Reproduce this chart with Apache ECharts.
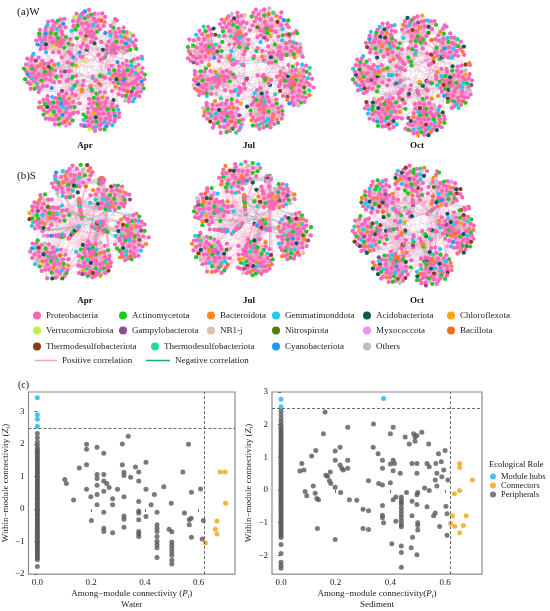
<!DOCTYPE html>
<html>
<head>
<meta charset="utf-8">
<script src="https://cdn.jsdelivr.net/npm/echarts@6/dist/echarts.min.js"></script>
<style>html,body{margin:0;padding:0;background:#fff}#main{width:550px;height:611px}</style>
</head>
<body>
<div id="main"></div>
<script>
var FONT = '"Liberation Serif","DejaVu Serif",serif';

// phyla and legend colours
var phyla = ['Proteobacteria','Actinomycetota','Bacteroidota','Gemmatimonddota','Acidobacteriota','Chloroflexota',
  'Verrucomicrobiota','Gampylobacterota','NB1-j','Nitrospirota','Myxococcota','Bacillota',
  'Thermodesulfobacteriota','Thermodesulfobacteriota ','Cyanobacteriota','Others'];
var phylaColors = ['#f766b9','#1fc71f','#f7891c','#1ec9f2','#0c5c55','#ffa516',
  '#bdf24a','#8f4b8f','#dcc1b0','#4d7d12','#f58ef2','#f56d1b',
  '#8c3b18','#22d8a2','#1f97f2','#bdbdbd'];

// networks: nodes per module (lobe), nodes in the mixed centre, phylum shares (%)
var wAprModules = [72, 68, 64, 60, 54, 50, 44];
var wJulModules = [66, 64, 60, 54, 52, 48, 44, 40];
var wOctModules = [74, 68, 62, 56, 52, 46, 42];
var sAprModules = [72, 68, 62, 56, 52, 46];
var sJulModules = [76, 70, 62, 56, 50, 46];
var sOctModules = [70, 66, 62, 56, 52, 46, 42];
var netCentre = [60, 44, 60, 70, 66, 80];
var wAprShares = [64, 14, 3, 7, 2, 1, 2, 1, 1, 0, 1, 1, 0, 0, 4, 1];
var wJulShares = [63, 12, 6, 4, 2, 1, 0, 1, 2, 1, 1, 1, 1, 4, 1, 5];
var wOctShares = [59, 13, 5, 8, 5, 1, 0, 1, 1, 1, 1, 1, 3, 1, 1, 4];
var sAprShares = [59, 13, 6, 7, 3, 1, 0, 1, 1, 1, 1, 1, 2, 3, 1, 5];
var sJulShares = [60, 13, 6, 5, 3, 1, 0, 1, 1, 1, 1, 1, 2, 3, 1, 5];
var sOctShares = [56, 13, 6, 8, 6, 1, 0, 2, 1, 1, 1, 1, 4, 2, 1, 4];
var months = ['Apr', 'Jul', 'Oct'];

// Zi-Pi plot, water
var waterHubs = [[0,3.42],[0,2.9],[0,2.76],[0,2.55]];
var waterConnectors = [[0.625,-1.04],[0.662,-0.62],[0.668,-0.37],[0.668,-0.77],[0.68,1.14],[0.698,1.14],[0.70,0.18]];
var waterZeroY = [2.32,2.19,2.06,1.96,1.87,1.81,1.75,1.7,1.64,1.58,1.53,1.47,1.42,1.36,1.31,1.24,1.19,1.13,1.08,1.02,0.96,0.91,0.85,0.8,0.74,0.69,0.63,0.57,0.52,0.46,0.41,0.35,0.3,0.24,0.18,0.13,0.07,0.02,-0.04,-0.09,-0.15,-0.2,-0.26,-0.32,-0.37,-0.43,-0.48,-0.54,-0.6,-0.65,-0.71,-0.76,-0.82,-0.87,-0.93,-0.99,-1.04,-1.1,-1.15,-1.21,-1.27,-1.32,-1.38,-1.44,-1.5,-1.56,-1.77];
var waterPeripherals = [[0.102,0.91],[0.108,0.79],[0.135,0.28],[0.156,1.26],[0.183,1.99],[0.183,1.84],[0.183,1.36],[0.183,0.61],
  [0.199,0.38],[0.201,-0.35],[0.222,1.9],[0.222,1.06],[0.222,0.94],[0.222,0.73],[0.222,0.45],[0.222,0.13],[0.247,1.72],[0.247,1.06],
  [0.247,0.86],[0.247,0.55],[0.247,-0.1],[0.247,-0.59],[0.247,-0.69],[0.258,0.79],[0.267,0.66],[0.28,0.32],[0.28,0.13],[0.28,-0.73],
  [0.298,0.61],[0.316,2.0],[0.316,1.36],[0.322,1.13],[0.322,1.03],[0.322,0.38],[0.322,-0.21],[0.322,-0.31],[0.322,-0.56],[0.338,2.24],
  [0.347,0.98],[0.365,1.29],[0.377,1.14],[0.377,0.86],[0.377,0.23],[0.377,-0.06],[0.377,-0.12],[0.377,-0.33],[0.377,-0.69],[0.377,-0.76],
  [0.377,-0.84],[0.404,1.44],[0.404,0.61],[0.404,-0.23],[0.423,0.13],[0.435,0.45],[0.445,-0.1],[0.445,-0.48],[0.445,-0.59],[0.445,-0.69],
  [0.445,-0.84],[0.445,-0.99],[0.445,-1.09],[0.445,-1.19],[0.445,-1.49],[0.47,0.69],[0.498,0.18],[0.49,-0.62],[0.5,-0.7],[0.5,-1.01],
  [0.5,-1.11],[0.5,-1.21],[0.5,-1.32],[0.5,-1.42],[0.5,-1.57],[0.5,-1.69],[0.541,1.14],[0.547,-0.12],[0.562,1.99],[0.565,-0.33],
  [0.565,-0.48],[0.572,-0.28],[0.573,0.52],[0.573,-0.87],[0.607,0.62],[0.613,-0.92],[0.617,-0.35]];

// Zi-Pi plot, sediment
var sedHubs = [[0,2.78],[0,2.55],[0.375,2.8]];
var sedConnectors = [[0.653,0.81],[0.653,0.69],[0.70,0.30],[0.634,-0.12],[0.653,-0.02],[0.627,-0.79],[0.677,-0.79],[0.62,-1.03],
  [0.635,-1.11],[0.667,-1.09],[0.653,-1.31]];
var sedZeroY = [2.42,2.3,2.18,2.08,1.98,1.91,1.85,1.79,1.73,1.66,1.6,1.54,1.48,1.42,1.36,1.3,1.24,1.18,1.12,1.06,1.0,0.94,0.88,0.82,
  0.76,0.7,0.64,0.58,0.52,0.46,0.4,0.34,0.28,0.22,0.16,0.1,0.04,-0.02,-0.08,-0.14,-0.2,-0.26,-0.32,-0.38,-0.44,-0.5,-0.56,-0.62,-0.68,
  -0.74,-0.8,-0.86,-0.92,-0.98,-1.04,-1.1,-1.16,-1.22,-1.28,-1.34,-1.4,-1.46,-1.67,-1.95,-2.22,-2.32,-2.4];
var sedPeripherals = [[0.076,0.81],[0.069,0.58],[0.084,0.61],[0.088,-0.05],[0.094,-0.18],[0.112,1.04],[0.118,0.12],[0.125,-0.1],
  [0.127,1.21],[0.131,-0.26],[0.137,-0.3],[0.133,-1.18],[0.155,1.72],[0.161,2.39],[0.164,0.45],[0.17,0.42],[0.18,0.55],[0.177,0.28],
  [0.182,0.2],[0.198,1.19],[0.198,0.91],[0.198,0.08],[0.198,-1.52],[0.216,1.31],[0.216,0.76],[0.222,0.66],[0.228,0.61],[0.218,-0.08],
  [0.244,1.92],[0.244,0.91],[0.244,0.66],[0.25,-0.3],[0.277,-0.32],[0.3,-0.59],[0.32,0.28],[0.32,-0.64],[0.3,-1.18],[0.32,-1.21],
  [0.337,1.31],[0.338,2.02],[0.355,1.11],[0.357,0.2],[0.371,0.91],[0.371,0.66],[0.371,0.15],[0.371,-0.48],[0.371,-0.78],[0.371,-0.85],
  [0.375,-1.01],[0.4,1.72],[0.41,1.92],[0.4,0.79],[0.41,0.91],[0.41,0.59],[0.4,0.22],[0.41,-0.3],[0.415,0.81],[0.42,-0.22],[0.42,-0.96],
  [0.405,-1.65],[0.436,0.51],[0.44,-0.22],[0.44,-0.3],[0.44,-0.38],[0.44,-0.45],[0.44,-0.56],[0.44,-0.66],[0.44,-0.76],[0.44,-0.86],
  [0.44,-0.96],[0.44,-1.06],[0.44,-1.13],[0.44,-1.72],[0.44,-1.92],[0.44,-2.37],[0.454,1.62],[0.459,-0.08],[0.469,1.41],[0.479,0.81],
  [0.479,-0.35],[0.479,-0.79],[0.481,-1.45],[0.476,-1.77],[0.485,1.72],[0.49,1.62],[0.497,1.67],[0.49,1.49],[0.497,0.81],[0.497,0.51],
  [0.497,-0.15],[0.5,-0.08],[0.497,-0.45],[0.5,-1.01],[0.5,-1.09],[0.5,-1.23],[0.497,-1.99],[0.515,1.77],[0.525,0.06],[0.534,0.81],
  [0.542,0.71],[0.534,-0.52],[0.54,1.41],[0.542,-0.02],[0.558,-0.79],[0.564,-0.71],[0.564,0.3],[0.566,0.81],[0.57,0.51],[0.57,0.12],
  [0.576,1.11],[0.58,-1.12],[0.586,0.86],[0.588,0.4],[0.595,0.61],[0.6,1.21],[0.603,-0.5],[0.607,-1.39],[0.61,0.3],[0.607,-0.73]];
var pTicks = [0, 0.2, 0.4, 0.6];
var waterZTicks = [-2, -1, 0, 1, 2, 3];
var sedZTicks = [-2, -1, 0, 1, 2, 3];
var pThreshold = 0.62, zThreshold = 2.5;

var POS = 'rgba(245,125,172,0.42)', NEG = 'rgba(40,170,140,0.32)';
// spring strengths of lobe members (larger = closer to the hub), spread so a lobe fills like a disc
var lobeDepth = [9, 8.38, 7.29, 6.3, 5.59, 5.03, 4.53, 4.1, 3.69, 3.32, 2.98, 2.64, 6.83, 4.78];

// build one co-occurrence network: each lobe hangs on its hub node, centre nodes bridge neighbouring lobes.
// links flagged ignoreForceLayout are only drawn, they do not move nodes.
function buildNet(tag, modules, centre, shares) {
  var nodes = [], links = [], used = shares.map(function () { return 0; });
  var sum = shares.reduce(function (a, b) { return a + b; }, 0);
  var k = 0, hubs = [];
  function pick() {
    var best = 0, bd = -1e9;
    for (var p = 0; p < shares.length; p++) {
      var d = shares[p] / sum * (k + 1) - used[p];
      if (d > bd) { bd = d; best = p; }
    }
    used[best]++;
    return best;
  }
  function extra(a, b, style) {
    if (a !== b) links.push({ source: a, target: b, value: 0, ignoreForceLayout: true, lineStyle: style });
  }
  modules.forEach(function (s) {
    var base = k;
    hubs.push(base);
    for (var j = 0; j < s; j++) {
      nodes.push({ name: tag + k, category: pick(), value: 1 });
      if (j > 0) {
        links.push({ source: base, target: k, value: lobeDepth[j % lobeDepth.length] });
        extra(base + (j * 7) % s, k);
        extra(base + (j * 13 + 5) % s, k);
        extra(base + (j * 5 + 3) % s, k);
      }
      k++;
    }
  });
  var M = modules.length;
  for (var m = 0; m < M; m++) {
    links.push({ source: hubs[m], target: hubs[(m + 1) % M], value: 0 });
    for (var e = 1; e < 10; e++) extra(hubs[m] + e * 4, hubs[(m + 1 + e % 3) % M] + e * 3);
  }
  for (var c = 0; c < centre; c++) {
    nodes.push({ name: tag + k, category: pick(), value: 1 });
    var st = { color: c % 4 === 0 ? NEG : POS };
    links.push({ source: hubs[c % M], target: k, value: 0.5 + c % 3, lineStyle: st });
    links.push({ source: hubs[(c + 1 + c % 2) % M], target: k, value: 0.5 + c % 3, lineStyle: st });
    extra(hubs[(c + 3) % M] + 2 + c % 9, k, { color: c % 3 === 0 ? NEG : POS });
    k++;
  }
  return { nodes: nodes, links: links };
}

var nets = [
  buildNet('wa', wAprModules, netCentre[0], wAprShares),
  buildNet('wj', wJulModules, netCentre[1], wJulShares),
  buildNet('wo', wOctModules, netCentre[2], wOctShares),
  buildNet('sa', sAprModules, netCentre[3], sAprShares),
  buildNet('sj', sJulModules, netCentre[4], sJulShares),
  buildNet('so', sOctModules, netCentre[5], sOctShares)
];
var netCentres = [[85, 72], [249, 72], [413, 77], [85, 227], [249, 224], [414, 228]];

var categories = phyla.map(function (n, i) { return { name: n, itemStyle: { color: phylaColors[i] } }; });

var series = nets.map(function (net, i) {
  return {
    type: 'graph', name: 'net' + i, layout: 'force',
    left: netCentres[i][0] - 62, top: netCentres[i][1] - 62, width: 124, height: 124,
    force: { initLayout: 'circular', repulsion: 0.36, gravity: 0.07, edgeLength: [1, 30], layoutAnimation: false },
    categories: categories, data: net.nodes, links: net.links,
    symbolSize: 4.2, silent: true, roam: false,
    label: { show: false }, emphasis: { disabled: true },
    lineStyle: { color: POS, width: 0.55, opacity: 1 },
    itemStyle: { borderWidth: 0 }
  };
});

function zeroCol(ys) { return ys.map(function (y) { return [0, y]; }); }
var dashLine = {
  silent: true, symbol: ['none', 'none'], label: { show: false },
  lineStyle: { type: [3, 2], color: '#444', width: 0.8 },
  data: [{ xAxis: pThreshold }, { yAxis: zThreshold }]
};
[[0, waterHubs, waterConnectors, zeroCol(waterZeroY).concat(waterPeripherals)],
 [1, sedHubs, sedConnectors, zeroCol(sedZeroY).concat(sedPeripherals)]].forEach(function (g) {
  series.push({ type: 'scatter', name: 'Peripherals', xAxisIndex: g[0], yAxisIndex: g[0], data: g[3], symbolSize: 5,
    itemStyle: { color: '#595959' }, markLine: dashLine });
  series.push({ type: 'scatter', name: 'Connectors', xAxisIndex: g[0], yAxisIndex: g[0], data: g[2], symbolSize: 5,
    itemStyle: { color: '#f5a117' } });
  series.push({ type: 'scatter', name: 'Module hubs', xAxisIndex: g[0], yAxisIndex: g[0], data: g[1], symbolSize: 5,
    itemStyle: { color: '#1cb5ec' } });
});
series.push({ type: 'line', name: 'Positive correlation', data: [], color: '#f7a2bf', xAxisIndex: 0, yAxisIndex: 0 });
series.push({ type: 'line', name: 'Negative correlation', data: [], color: '#1aa97a', xAxisIndex: 0, yAxisIndex: 0 });

var txt = { fontFamily: FONT, fontSize: 9, color: '#222' };
var legendSpots = [[37,317],[123,317],[211,317],[276,317],[367,317],[451,317],
  [37,332],[123,332],[211,332],[276,332],[367,332],[451,332],
  [37,348],[155,348],[276,348],[367,348]];
var legends = phyla.map(function (n, i) {
  return { data: [n], left: legendSpots[i][0] - 4, top: legendSpots[i][1] - 6, padding: 0, icon: 'circle',
    itemWidth: 8, itemHeight: 8, selectedMode: false, textStyle: txt,
    formatter: function (s) { return s.trim(); } };
});
legends.push({ data: ['Positive correlation'], left: 35, top: 356, padding: 0, icon: 'rect', itemWidth: 22, itemHeight: 1.5,
  selectedMode: false, textStyle: txt });
legends.push({ data: ['Negative correlation'], left: 146, top: 356, padding: 0, icon: 'rect', itemWidth: 24, itemHeight: 1.5,
  selectedMode: false, textStyle: txt });
legends.push({ data: ['Module hubs', 'Connectors', 'Peripherals'], orient: 'vertical', left: 490, top: 472, padding: 0,
  icon: 'circle', itemWidth: 6, itemHeight: 6, itemGap: 0, selectedMode: false,
  textStyle: { fontFamily: FONT, fontSize: 8.5, color: '#222' } });

var rich = {
  it: { fontFamily: FONT, fontSize: 9, fontStyle: 'italic', color: '#222' },
  sub: { fontFamily: FONT, fontSize: 6, fontStyle: 'italic', color: '#222', padding: [5, 0, 0, 0] }
};
function minus(v) { return v < 0 ? '\u2212' + Math.abs(v) : String(v); }
function xAx(idx, name) {
  return {
    type: 'value', gridIndex: idx, min: -0.033, max: 0.735,
    name: name, nameLocation: 'middle', nameGap: 10,
    nameTextStyle: { fontFamily: FONT, fontSize: 9, color: '#222', lineHeight: 11, rich: rich },
    axisLine: { show: false }, splitLine: { show: false },
    axisTick: { show: true, length: 3, customValues: pTicks, lineStyle: { color: '#666' } },
    axisLabel: { customValues: pTicks, margin: 4, fontFamily: FONT, fontSize: 9, color: '#222',
      formatter: function (v) { return v.toFixed(1); } }
  };
}
function yAx(idx, min, max, ticks) {
  return {
    type: 'value', gridIndex: idx, min: min, max: max,
    name: 'Within\u2212module connectivity ({it|Z}{sub|i})', nameLocation: 'middle', nameGap: 15,
    nameTextStyle: { fontFamily: FONT, fontSize: 9, color: '#222', rich: rich },
    axisLine: { show: false }, splitLine: { show: false },
    axisTick: { show: true, length: 3, customValues: ticks, lineStyle: { color: '#666' } },
    axisLabel: { customValues: ticks, margin: 4, fontFamily: FONT, fontSize: 9, color: '#222', formatter: minus }
  };
}

function label(t, x, y, size, bold, align) {
  return { type: 'text', x: x, y: y, silent: true,
    style: { text: t, fontFamily: FONT, fontSize: size, fontWeight: bold ? 'bold' : 'normal', fill: '#111',
      textAlign: align || 'left', textVerticalAlign: 'middle' } };
}
var graphics = [label('(a)W', 17, 12, 11), label('(b)S', 17, 176, 11), label('(c)', 18, 385, 10),
  label('Ecological Role', 489, 465, 8.5)];
var monthX = [85, 249, 417];
months.forEach(function (m, i) {
  graphics.push(label(m, monthX[i], 146, 9, true, 'center'));
  graphics.push(label(m, monthX[i], 301, 9, true, 'center'));
});

var myChart = echarts.init(document.getElementById('main'), null, { renderer: 'canvas' });
myChart.setOption({
  animation: false,
  backgroundColor: '#fff',
  textStyle: { fontFamily: FONT },
  grid: [
    { left: 24, top: 392, width: 211, height: 185, show: true, borderColor: '#8c8c8c', borderWidth: 1.2 },
    { left: 272, top: 392, width: 210, height: 183, show: true, borderColor: '#8c8c8c', borderWidth: 1.2 }
  ],
  xAxis: [xAx(0, 'Among\u2212module connectivity ({it|P}{sub|i})\nWater'),
          xAx(1, 'Among\u2212module connectivity({it|P}{sub|i})\nSediment')],
  yAxis: [yAx(0, -2, 3.6, waterZTicks), yAx(1, -2.58, 3, sedZTicks)],
  legend: legends,
  graphic: graphics,
  series: series
});
</script>
</body>
</html>
